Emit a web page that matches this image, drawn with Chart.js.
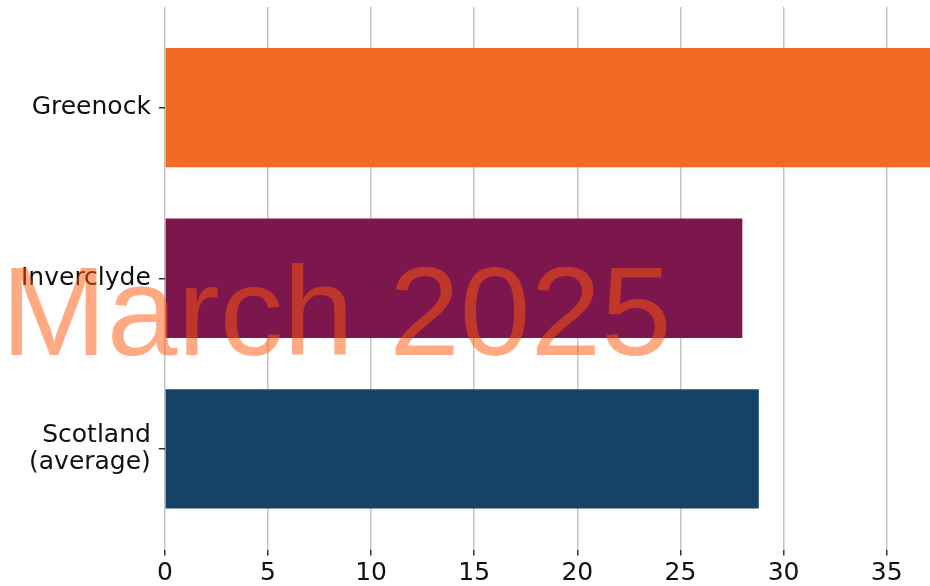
<!DOCTYPE html>
<html>
<head>
<meta charset="utf-8">
<script src="https://cdn.jsdelivr.net/npm/chart.js@4"></script>
<style>
  html, body { margin: 0; padding: 0; background: #fff; }
  #wrap { width: 930px; height: 586px; }
</style>
</head>
<body>
<div id="wrap"><canvas id="myChart" width="930" height="586"></canvas></div>
<script>
const categories = ["Greenock", "Inverclyde", ["Scotland", "(average)"]];
const values = [37.1, 28.0, 28.8];
const barColours = ["#f26b24", "#7e164e", "#144369"];
const xTicks = [0, 5, 10, 15, 20, 25, 30, 35];
const watermark = "March 2025";

// y range in bar slots, a bit of space above the first bar and below the last
const yMin = -0.59;
const yMax = 2.59;

// big see-through date stamp drawn over the bars
const watermarkPlugin = {
  id: "watermark",
  afterDraw(chart) {
    const ctx = chart.ctx;
    ctx.save();
    ctx.font = '127px "Liberation Sans", Arial, sans-serif';
    ctx.fillStyle = "rgba(255, 85, 5, 0.5)";
    ctx.textAlign = "left";
    ctx.textBaseline = "alphabetic";
    ctx.fillText(watermark, 1, 355);
    ctx.restore();
  }
};

const ctx = document.getElementById("myChart").getContext("2d");

new Chart(ctx, {
  type: "bar",
  data: {
    datasets: [{
      data: values.map((v, i) => ({ x: v, y: i })),
      backgroundColor: barColours,
      borderWidth: 0,
      categoryPercentage: 1,
      barPercentage: 0.7
    }]
  },
  options: {
    indexAxis: "y",
    responsive: false,
    animation: false,
    layout: { padding: { left: 13, top: 7, right: 0, bottom: -5.5 } },
    plugins: {
      legend: { display: false },
      tooltip: { enabled: false }
    },
    scales: {
      x: {
        type: "linear",
        min: 0,
        max: 37.1,
        border: { display: false },
        grid: {
          color: "#c4c4c4",
          lineWidth: 1.5,
          drawTicks: true,
          tickLength: 6,
          tickColor: "#333",
          tickWidth: 1.5
        },
        afterBuildTicks: scale => { scale.ticks = xTicks.map(v => ({ value: v })); },
        ticks: {
          includeBounds: false,
          padding: 5.5,
          color: "#111",
          font: { family: "DejaVu Sans", size: 25, lineHeight: 1 }
        }
      },
      y: {
        type: "linear",
        offset: false,
        min: yMin,
        max: yMax,
        reverse: true,
        border: { display: false },
        grid: {
          offset: false,
          drawOnChartArea: false,
          drawTicks: true,
          tickLength: 6,
          color: "#333",
          lineWidth: 1.5
        },
        afterBuildTicks: scale => { scale.ticks = categories.map((c, i) => ({ value: i })); },
        // labels sit well inside the range, so no extra room above/below
        afterFit: scale => { scale.paddingTop = 0; scale.paddingBottom = 0; },
        ticks: {
          padding: 8,
          color: "#111",
          font: { family: "DejaVu Sans", size: 25, lineHeight: 1.1 },
          callback: v => categories[v]
        }
      }
    }
  },
  plugins: [watermarkPlugin]
});
</script>
</body>
</html>
